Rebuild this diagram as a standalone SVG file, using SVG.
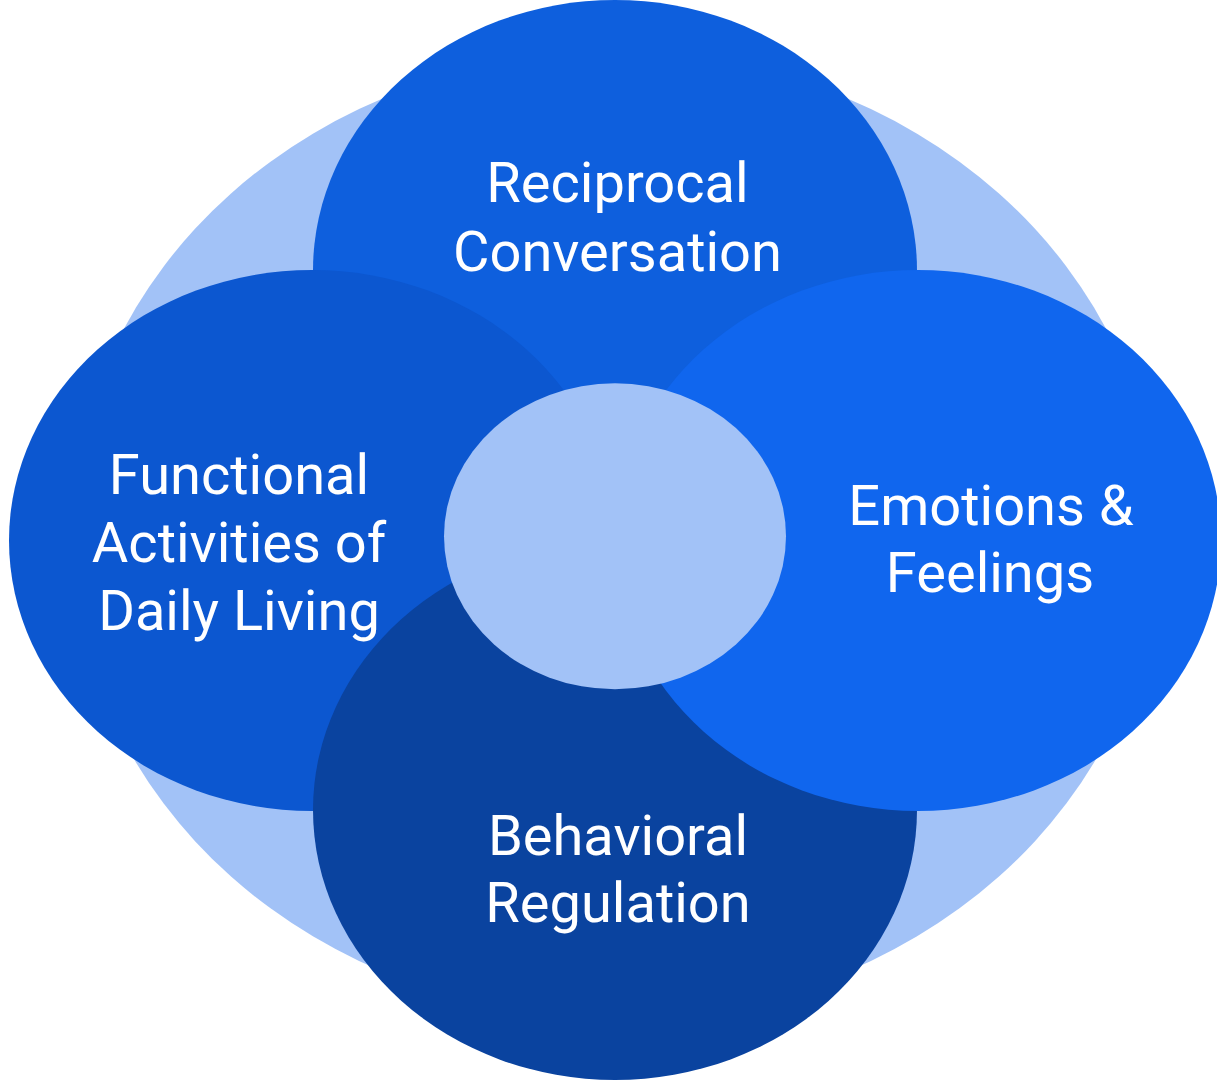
<svg xmlns="http://www.w3.org/2000/svg" width="1217" height="1080" viewBox="0 0 1217 1080">
<style>
.lbl{font-family:Roboto,"Liberation Sans",sans-serif;font-size:56px;fill:#ffffff;text-anchor:middle}
</style>
<rect x="0" y="0" width="1217" height="1080" fill="#ffffff"/>
<g id="background"><ellipse cx="615" cy="535" rx="543" ry="483" fill="#a2c2f7"/></g>
<g id="node-top"><ellipse cx="615" cy="270.5" rx="302" ry="270.5" fill="#0e5fdd"/></g>
<g id="node-left"><ellipse cx="312" cy="540.5" rx="303" ry="270.5" fill="#0c57d0"/></g>
<g id="node-bottom"><ellipse cx="615" cy="810" rx="302" ry="270" fill="#0a439f"/></g>
<g id="node-right"><ellipse cx="918" cy="540.5" rx="303" ry="270.5" fill="#1066ee"/></g>
<g id="node-center"><ellipse cx="615" cy="536.3" rx="171" ry="153" fill="#a2c2f7"/></g>
<g id="connectors"></g>
<g id="labels">
<text class="lbl" x="617.5" y="202">Reciprocal</text>
<text class="lbl" x="617.5" y="271">Conversation</text>
<text class="lbl" x="239" y="494">Functional</text>
<text class="lbl" x="239" y="562">Activities of</text>
<text class="lbl" x="239" y="630">Daily Living</text>
<text class="lbl" x="991" y="525">Emotions &amp;</text>
<text class="lbl" x="990" y="592">Feelings</text>
<text class="lbl" x="618" y="855">Behavioral</text>
<text class="lbl" x="618" y="922">Regulation</text>
</g>
</svg>
